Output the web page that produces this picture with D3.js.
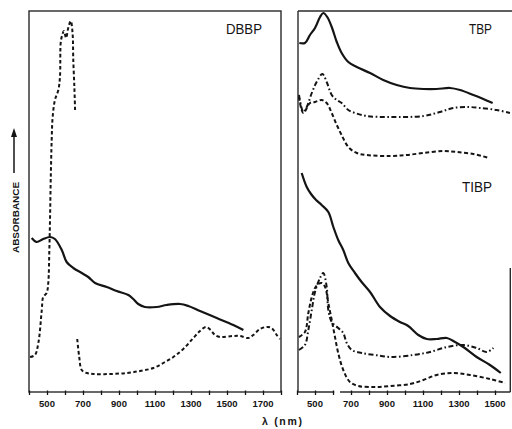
<!DOCTYPE html>
<html><head><meta charset="utf-8">
<script src="https://cdn.jsdelivr.net/npm/d3@7/dist/d3.min.js"></script>
<style>body{margin:0;background:#fff}svg{display:block}</style>
</head><body>
<script>
// wavelength (nm) / relative absorbance (arbitrary units)
const dbbpSolidNm  = [415,443,479,517,544,582,609,646,693,729,767,832,887,952,979,1007,1044,1109,1165,1239,1285,1350,1443,1535,1591];
const dbbpSolidA   = [154,150,153,155,153,142,130,124,119,115,109,105,101,97,93,88,85,85,87,88,86,81,74,67,62];
const dbbpDash1Nm  = [406,433,452,471,479,498,507,513,517,521,526,531,544,563,572,576,583,594,606,618,632,642,646,652,656];
const dbbpDash1A   = [35,37,49,82,95,99,109,142,175,215,252,274,292,302,315,349,356,361,354,364,371,359,332,305,282];
const dbbpDash2Nm  = [668,679,693,721,757,850,943,1017,1091,1146,1202,1257,1313,1350,1383,1409,1433,1461,1535,1572,1618,1646,1683,1721,1748,1776,1794];
const dbbpDash2A   = [53,35,22,19,18,18,19,21,24,29,35,43,54,61,65,62,57,55,56,56,54,57,63,65,64,57,53];

const tbpSolidNm   = [413,444,472,500,528,546,568,593,621,648,685,732,806,879,954,1028,1102,1176,1250,1306,1380,1435,1487];
const tbpSolidA    = [349,349,357,364,375,379,375,365,350,339,330,325,319,312,307,304,303,303,304,302,297,293,289];
const tbpDotDashNm = [411,435,454,482,509,541,565,593,621,648,685,722,787,917,1102,1194,1268,1352,1417,1509,1583];
const tbpDotDashA  = [297,280,285,299,310,318,310,297,292,289,282,279,276,275,276,280,284,285,284,282,279];
const tbpDashNm    = [411,435,472,500,537,565,593,621,648,685,732,787,917,1009,1102,1213,1287,1380,1468];
const tbpDashA     = [295,279,289,290,292,289,279,267,257,245,239,237,236,237,239,241,240,238,234];

const tibpSolidNm  = [426,454,478,506,537,574,602,629,657,685,722,759,806,861,917,972,1018,1074,1121,1176,1232,1278,1324,1398,1472,1532];
const tibpSolidA   = [219,205,198,192,187,180,165,152,142,129,119,110,100,85,76,70,66,57,53,53,54,50,45,35,27,19];
const tibpDotDashNm= [411,444,463,482,500,528,546,565,574,593,629,657,676,704,759,833,917,1046,1139,1232,1324,1398,1454,1491];
const tibpDotDashA = [42,47,62,82,100,114,119,105,82,70,64,59,49,42,39,37,35,37,40,45,47,44,40,44];
const tibpDashNm   = [411,444,463,482,500,518,537,556,574,593,611,629,657,694,741,833,917,1028,1102,1176,1268,1361,1472,1556];
const tibpDashA    = [55,60,79,95,104,108,109,105,89,72,55,39,22,10,6,5,6,8,12,17,19,17,13,9];

const leftTicks  = [400,500,600,700,800,900,1000,1100,1200,1300,1400,1500,1600,1700,1800];
const leftLabels = [500,700,900,1100,1300,1500,1700];
const rightTicks = [400,500,600,700,800,900,1000,1100,1200,1300,1400,1500];
const rightLabels= [500,700,900,1100,1300,1500];

const W = 512, H = 429;
const svg = d3.select("body").append("svg").attr("width", W).attr("height", H);
const ink = "#141414";

const y = d3.scaleLinear().domain([0, 381]).range([392, 11]);
const xL = d3.scaleLinear().domain([400, 1800]).range([29, 281]);
const xR = d3.scaleLinear().domain([400, 1585]).range([297, 510.3]);

function zip(a, b){ return a.map((v,i)=>[v,b[i]]); }
function curve(xs, nm, A, dash, w){
  const line = d3.line().x(d=>xs(d[0])).y(d=>y(d[1])).curve(d3.curveCatmullRom.alpha(0.5));
  svg.append("path").attr("d", line(zip(nm, A)))
    .attr("fill","none").attr("stroke",ink).attr("stroke-width",w)
    .attr("stroke-dasharray", dash).attr("stroke-linejoin","round");
}

// frames
const fr = svg.append("g").attr("stroke","#2a2a2a").attr("stroke-width",1.4).attr("fill","none");
fr.append("rect").attr("x",xL(400)).attr("y",y(381)).attr("width",xL(1800)-xL(400)).attr("height",y(0)-y(381));
fr.append("line").attr("x1",xR(400)+1).attr("x2",xR(400)+1).attr("y1",y(381)).attr("y2",y(0));
fr.append("line").attr("x1",xR(400)+1).attr("x2",W).attr("y1",y(381)).attr("y2",y(381));
fr.append("line").attr("x1",xR(1585)).attr("x2",xR(1585)).attr("y1",268).attr("y2",y(0));
fr.append("line").attr("x1",xR(400)+1).attr("x2",xR(607)).attr("y1",y(0)).attr("y2",y(0));
fr.append("line").attr("x1",xR(639)).attr("x2",xR(1585)).attr("y1",y(0)).attr("y2",y(0));

// axes
function axis(xs, ticks, labels){
  const g = svg.append("g").attr("transform",`translate(0,${y(0)})`);
  g.call(d3.axisBottom(xs).tickValues(ticks).tickSize(3).tickFormat(""));
  g.select(".domain").remove();
  g.selectAll(".tick line").attr("stroke",ink).attr("stroke-width",1.3).attr("y1",-1.5);
  svg.append("g").selectAll("text").data(labels).join("text")
    .attr("x",d=>xs(d)).attr("y",406.5).attr("text-anchor","middle")
    .attr("font-family","Liberation Sans, Arial, sans-serif").attr("font-weight","bold")
    .attr("font-size",9.5).attr("fill",ink).text(d=>d);
}
axis(xL, leftTicks, leftLabels);
axis(xR, rightTicks, rightLabels);

// curves
curve(xL, dbbpSolidNm, dbbpSolidA, null, 2.2);
curve(xL, dbbpDash1Nm, dbbpDash1A, "3.5,2.5", 2);
curve(xL, dbbpDash2Nm, dbbpDash2A, "3.5,2.5", 2);
curve(xR, tbpSolidNm, tbpSolidA, null, 2.2);
curve(xR, tbpDotDashNm, tbpDotDashA, "5,2.5,1.6,2.5", 2);
curve(xR, tbpDashNm, tbpDashA, "4,2.5", 2);
curve(xR, tibpSolidNm, tibpSolidA, null, 2.2);
curve(xR, tibpDotDashNm, tibpDotDashA, "5,2.5,1.6,2.5", 2);
curve(xR, tibpDashNm, tibpDashA, "4,2.5", 2);

// labels
const font = "Liberation Sans, Arial, sans-serif";
function lab(t, x, yb, size, len){
  svg.append("text").attr("x",x).attr("y",yb).attr("font-family",font).attr("font-size",size)
    .attr("fill",ink).attr("textLength",len).attr("lengthAdjust","spacingAndGlyphs").text(t);
}
lab("DBBP", 226, 33.5, 15, 36);
lab("TBP", 469, 33.5, 14, 23);
lab("TIBP", 462, 191.5, 14, 30);

svg.append("text").attr("transform","translate(19,217.5) rotate(-90)")
  .attr("text-anchor","middle").attr("font-family",font).attr("font-weight","bold")
  .attr("font-size",8.5).attr("fill",ink).attr("textLength",71).attr("lengthAdjust","spacingAndGlyphs")
  .text("ABSORBANCE");
svg.append("line").attr("x1",14).attr("x2",14).attr("y1",173).attr("y2",134)
  .attr("stroke",ink).attr("stroke-width",1.5);
svg.append("path").attr("d","M14,128 L11,137 L17,137 Z").attr("fill",ink);

svg.append("text").attr("x",262).attr("y",425).attr("font-family",font).attr("font-weight","bold")
  .attr("font-size",10.5).attr("fill",ink).attr("textLength",40).attr("lengthAdjust","spacing")
  .text("λ  (nm)");
</script>
</body></html>
